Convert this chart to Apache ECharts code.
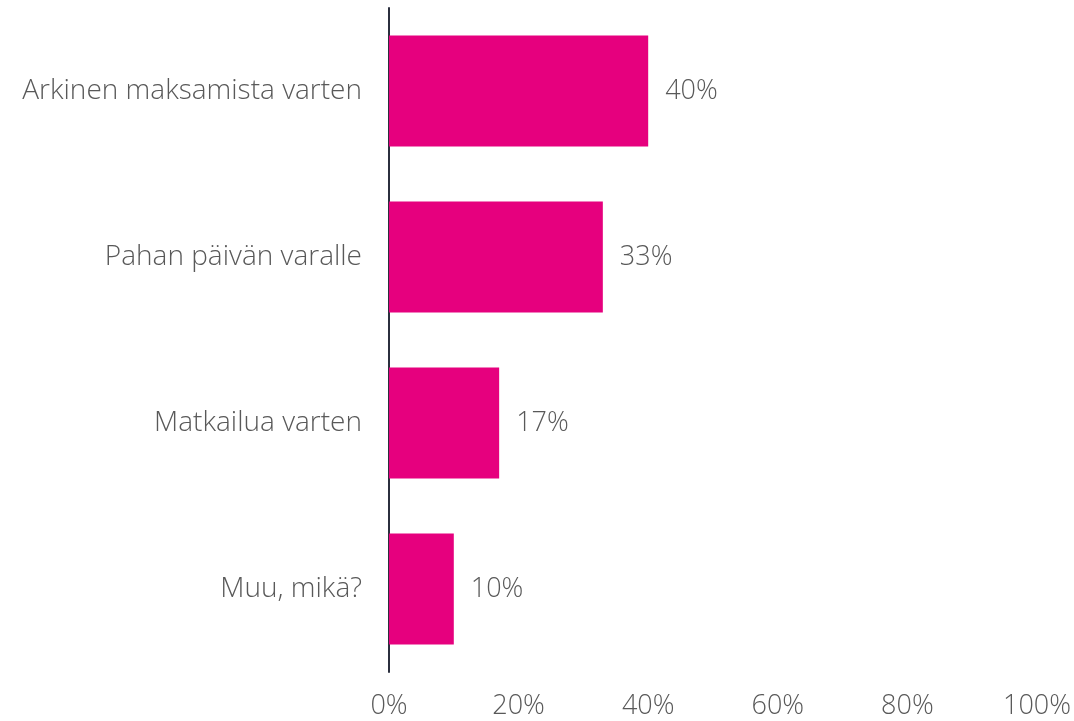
<!DOCTYPE html>
<html>
<head>
<meta charset="utf-8">
<script src="https://cdn.jsdelivr.net/npm/echarts@6/dist/echarts.min.js"></script>
<style>
html, body { margin: 0; padding: 0; background: #fff; }
#chart { width: 1074px; height: 721px; }
</style>
</head>
<body>
<div id="chart"></div>
<script>
var categories = ['Arkinen maksamista varten', 'Pahan päivän varalle', 'Matkailua varten', 'Muu, mikä?'];
var values = [40, 33, 17, 10];

var chart = echarts.init(document.getElementById('chart'));
var font = '"Open Sans", sans-serif';

var option = {
    animation: false,
    grid: { left: 389, right: 29, top: 8, bottom: 49 },
    xAxis: {
        type: 'value',
        min: 0,
        max: 100,
        interval: 20,
        axisLine: { show: false },
        axisTick: { show: false },
        splitLine: { show: false },
        axisLabel: {
            margin: 21,
            color: '#595959',
            fontSize: 27,
            fontWeight: 300,
            fontFamily: font,
            formatter: '{value}%'
        }
    },
    yAxis: {
        type: 'category',
        inverse: true,
        data: categories,
        axisLine: { show: true, lineStyle: { color: '#2b2f3e', width: 2 } },
        axisTick: { show: false },
        axisLabel: {
            margin: 27,
            color: '#595959',
            fontSize: 28,
            fontWeight: 300,
            fontFamily: font
        }
    },
    series: [{
        type: 'bar',
        data: values,
        barWidth: '67%',
        itemStyle: { color: '#e6007e' },
        label: {
            show: true,
            position: 'right',
            distance: 17,
            color: '#595959',
            fontSize: 27,
            fontWeight: 300,
            fontFamily: font,
            formatter: '{c}%'
        }
    }]
};

chart.setOption(option);
</script>
</body>
</html>
